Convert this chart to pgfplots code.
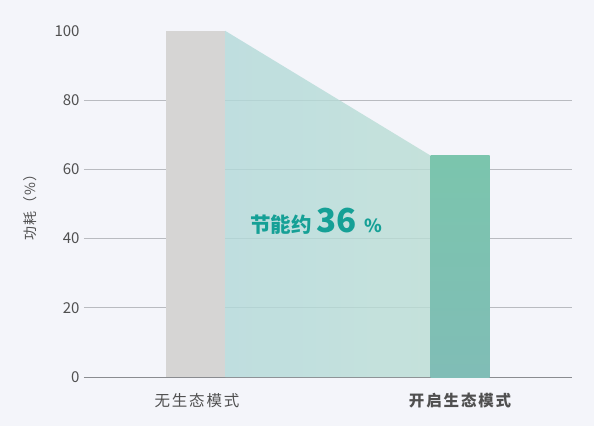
\documentclass[border=0pt]{standalone}
\usepackage{fontspec}
\setmainfont{Noto Sans CJK SC}
\usepackage{pgfplots}
\pgfplotsset{compat=1.18}

\definecolor{bg}{HTML}{F4F5FA}
\definecolor{gridc}{HTML}{B9BBC0}
\definecolor{axisc}{HTML}{8A8C90}
\definecolor{barA}{HTML}{D6D5D4}
\definecolor{barBtop}{HTML}{7BC5AD}
\definecolor{barBbot}{HTML}{80BDB6}
\definecolor{areaL}{HTML}{B2D9D9}
\definecolor{areaR}{HTML}{BADDD4}
\definecolor{savec}{HTML}{15A096}
\definecolor{txt}{HTML}{505050}

\begin{document}
\begin{tikzpicture}
\fill[bg] (-84bp,-49bp) rectangle (510bp,377bp);
\begin{axis}[
  at={(0,0)}, anchor=south west,
  scale only axis, width=488bp, height=346bp,
  xmin=-0.4242, xmax=1.4242, ymin=0, ymax=100,
  axis lines=left,
  axis line style={-},
  y axis line style={draw=none},
  x axis line style={draw=axisc, line width=0.9pt},
  major tick length=0pt,
  ytick={0,20,40,60,80},
  extra y ticks={100},
  extra y tick style={grid=none},
  ymajorgrids,
  major grid style={draw=gridc, line width=0.8pt},
  /pgf/number format/assume math mode=true,
  xtick={0,1},
  xticklabels={无生态模式, \textbf{开启生态模式}},
  tick label style={text=txt},
  yticklabel style={font=\fontsize{15bp}{17bp}\selectfont, xshift=-1bp},
  xticklabel style={font=\fontsize{15.5bp}{17bp}\selectfont\addfontfeature{LetterSpace=12},
    yshift=-13bp, xshift=1bp},
  ylabel={功耗（\%）},
  ylabel style={at={(axis description cs:-0.1107,0.5)}, anchor=center,
    font=\fontsize{14bp}{16bp}\selectfont\addfontfeature{LetterSpace=8}, text=txt},
  no markers,
]
% saving area between the two bars
\addplot[draw=none, left color=areaL, right color=areaR, fill opacity=0.8]
  coordinates {(0.1117,100) (0.8883,64)} \closedcycle;
% bars
\addplot[ybar, bar width=59bp, bar shift=0pt, draw=none, fill=barA]
  coordinates {(0,100)};
\addplot[ybar, bar width=59bp, bar shift=0pt, draw=none,
  top color=barBtop, bottom color=barBbot]
  coordinates {(1,64)};
\node[anchor=base west, text=savec, inner sep=0pt] at (axis cs:0.2045,41.8)
  {\bfseries\fontsize{20.5bp}{22bp}\selectfont 节能约\hspace{5bp}%
   \fontsize{33bp}{35bp}\selectfont 36\hspace{8bp}%
   \fontsize{18bp}{20bp}\selectfont\%};
\end{axis}
\end{tikzpicture}
\end{document}
